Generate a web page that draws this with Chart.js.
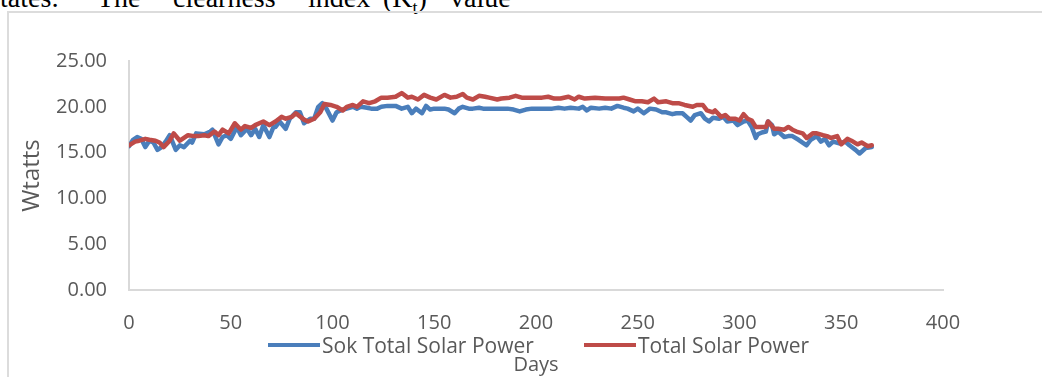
<!DOCTYPE html>
<html>
<head>
<meta charset="utf-8">
<script src="https://cdn.jsdelivr.net/npm/chart.js@4/dist/chart.umd.min.js"></script>
<style>
    body { margin: 0; background: #fff; overflow: hidden; }
    #wrap { position: relative; width: 1042px; height: 377px; overflow: hidden; }
    #frame { position: absolute; left: 7px; top: 11px; width: 1100px; height: 400px;
             border-left: 2px solid #dcdcdc; border-top: 2px solid #dcdcdc; }
    #doc { position: absolute; top: -16px; left: 0; font-family: "Liberation Serif", "Times New Roman", serif;
           font-size: 28px; line-height: 28px; color: #000; white-space: nowrap; }
    #doc span { position: absolute; top: 0; }
    canvas { position: absolute; left: 0; top: 0; }
    .leg { position: absolute; top: 332px; font-family: "Open Sans", sans-serif; font-size: 21px;
           color: #595959; line-height: 26px; white-space: nowrap; }
    .leg i { display: inline-block; width: 52px; height: 4px; vertical-align: middle; margin-right: 2px;
             position: relative; top: -2px; }
</style>
</head>
<body>
<div id="wrap">
    <div id="doc">
        <span style="left:0">tates:</span>
        <span style="left:97px">The</span>
        <span style="left:173px">clearness</span>
        <span style="left:308px">index</span>
        <span style="left:383px">(K<sub style="font-size:18px">t</sub>)</span>
        <span style="left:450px">value</span>
    </div>
    <div id="frame"></div>
    <canvas id="chartSolar" width="1042" height="377"></canvas>
    <div class="leg" style="left:268px"><i style="background:#4a7ebb"></i>Sok Total Solar Power</div>
    <div class="leg" style="left:584px"><i style="background:#be4b48"></i>Total Solar Power</div>
</div>
<script>
// Sok Total Solar Power (blue)
const sokDays = [0, 2, 4, 6, 8, 10, 12, 14, 16, 18, 20, 23, 25, 27, 30, 31, 33, 37, 40, 41, 44, 46, 48, 50, 53, 55, 58, 60, 62, 64, 66, 69, 71, 72, 74, 77, 79, 82, 84, 86, 89, 91, 93, 95, 97, 100, 102, 104, 107, 110, 112, 114, 117, 119, 122, 124, 127, 131, 134, 137, 139, 141, 144, 146, 148, 150, 155, 157, 160, 162, 164, 167, 169, 172, 174, 177, 180, 183, 186, 189, 192, 195, 198, 201, 204, 208, 211, 214, 217, 221, 223, 225, 227, 231, 234, 237, 240, 243, 245, 248, 250, 253, 256, 259, 262, 264, 267, 269, 272, 274, 276, 278, 281, 283, 285, 287, 290, 292, 294, 297, 299, 302, 304, 306, 308, 309, 311, 313, 314, 316, 317, 319, 322, 324, 326, 329, 331, 333, 335, 338, 340, 342, 344, 346, 349, 352, 354, 357, 359, 362, 365];
const sokPower = [15.7, 16.4, 16.7, 16.5, 15.6, 16.3, 16.1, 15.3, 15.6, 16.2, 16.9, 15.3, 15.8, 15.6, 16.3, 16.1, 17.1, 17.0, 17.3, 17.5, 15.9, 16.7, 16.9, 16.5, 17.8, 16.9, 17.6, 16.9, 17.6, 16.7, 18.0, 16.7, 17.8, 17.8, 18.4, 17.6, 18.7, 19.4, 19.4, 18.2, 18.7, 18.7, 20.0, 20.4, 19.8, 18.5, 19.4, 19.6, 19.8, 20.0, 19.8, 20.0, 19.9, 19.8, 19.8, 20.0, 20.1, 20.1, 19.8, 20.0, 19.3, 19.8, 19.3, 20.1, 19.7, 19.8, 19.8, 19.7, 19.3, 19.8, 20.0, 19.8, 19.8, 19.9, 19.8, 19.8, 19.8, 19.8, 19.8, 19.7, 19.5, 19.7, 19.8, 19.8, 19.8, 19.8, 19.9, 19.8, 19.9, 19.8, 20.0, 19.6, 19.9, 19.8, 19.9, 19.8, 20.1, 19.9, 19.8, 19.5, 19.8, 19.3, 19.8, 19.7, 19.4, 19.4, 19.2, 19.3, 19.3, 18.9, 18.5, 19.1, 19.3, 18.7, 18.4, 18.8, 18.7, 18.9, 18.4, 18.5, 18.0, 18.4, 18.5, 17.8, 16.6, 17.0, 17.2, 17.3, 18.4, 18.0, 17.0, 17.3, 16.7, 16.8, 16.8, 16.4, 16.1, 15.8, 16.4, 16.8, 16.2, 16.5, 15.8, 16.2, 16.0, 16.2, 15.8, 15.3, 14.9, 15.5, 15.6];

// Total Solar Power (red)
const totalDays = [0, 3, 5, 8, 10, 13, 15, 17, 20, 22, 25, 27, 29, 32, 34, 37, 39, 42, 44, 46, 49, 52, 55, 57, 60, 62, 66, 69, 72, 75, 77, 80, 82, 86, 88, 91, 94, 96, 99, 102, 105, 107, 110, 112, 115, 118, 121, 124, 127, 131, 134, 137, 139, 142, 145, 148, 151, 155, 158, 161, 164, 166, 169, 172, 175, 177, 181, 183, 187, 190, 193, 196, 200, 203, 206, 209, 212, 216, 219, 221, 224, 229, 234, 237, 241, 243, 246, 249, 252, 255, 258, 260, 264, 267, 270, 273, 277, 279, 282, 284, 287, 288, 291, 293, 295, 298, 300, 302, 304, 306, 308, 311, 313, 314, 317, 319, 322, 324, 326, 328, 331, 333, 336, 338, 341, 343, 345, 348, 350, 353, 355, 358, 360, 363, 365];
const totalPower = [15.8, 16.2, 16.3, 16.5, 16.4, 16.3, 16.1, 15.6, 16.3, 17.1, 16.3, 16.6, 16.9, 16.8, 16.8, 16.9, 16.8, 17.3, 16.9, 17.5, 17.1, 18.2, 17.5, 17.9, 17.7, 18.0, 18.4, 18.0, 18.4, 18.9, 18.7, 18.9, 19.3, 18.6, 18.4, 18.7, 19.4, 20.3, 20.2, 20.0, 19.6, 20.0, 20.2, 20.0, 20.6, 20.4, 20.6, 21.0, 21.0, 21.1, 21.5, 21.0, 21.1, 20.8, 21.3, 21.0, 20.8, 21.3, 21.0, 21.1, 21.4, 21.0, 20.8, 21.2, 21.1, 21.0, 20.8, 20.9, 21.0, 21.2, 21.0, 21.0, 21.0, 21.0, 21.1, 20.9, 20.9, 21.1, 20.8, 21.1, 20.9, 21.0, 20.9, 20.9, 20.9, 21.0, 20.8, 20.6, 20.6, 20.5, 20.9, 20.5, 20.6, 20.4, 20.4, 20.2, 20.0, 20.2, 20.2, 19.6, 19.4, 19.6, 18.9, 19.1, 18.7, 18.7, 18.5, 19.2, 18.7, 18.5, 17.8, 17.8, 17.8, 18.4, 17.6, 17.6, 17.5, 17.8, 17.5, 17.3, 17.1, 16.6, 17.1, 17.1, 16.9, 16.8, 16.6, 16.8, 15.9, 16.5, 16.3, 15.9, 16.1, 15.7, 15.8];

const xTicks = [0, 50, 100, 150, 200, 250, 300, 350, 400];
const yTicks = [0, 5, 10, 15, 20, 25];

const FONT = '"Open Sans", sans-serif';
const GRIS = '#595959';

function puntos(dias, valores) {
    return dias.map((d, i) => ({ x: d, y: valores[i] }));
}

new Chart(document.getElementById('chartSolar'), {
    type: 'line',
    data: {
        datasets: [{
            label: 'Sok Total Solar Power',
            data: puntos(sokDays, sokPower),
            borderColor: '#4a7ebb',
            borderWidth: 4.5,
            order: 1
        }, {
            label: 'Total Solar Power',
            data: puntos(totalDays, totalPower),
            borderColor: '#be4b48',
            borderWidth: 4.5,
            order: 0
        }]
    },
    options: {
        responsive: false,
        animation: false,
        devicePixelRatio: 1,
        layout: { padding: { left: 0, top: 61, right: 99, bottom: 0 } },
        elements: {
            point: { radius: 0 },
            line: { tension: 0, borderJoinStyle: 'round', borderCapStyle: 'round' }
        },
        plugins: {
            legend: { display: false },
            tooltip: { enabled: false }
        },
        scales: {
            x: {
                type: 'linear',
                min: 0,
                max: 400,
                afterBuildTicks: s => { s.ticks = xTicks.map(v => ({ value: v })); },
                afterFit: s => { s.height = 87; },
                grid: { display: false, drawTicks: false },
                border: { display: true, color: '#d9d9d9', width: 2 },
                ticks: { color: GRIS, font: { family: FONT, size: 20 }, padding: 21, maxRotation: 0 },
                title: { display: true, text: 'Days', color: GRIS, font: { family: FONT, size: 20 },
                         padding: { top: 18, bottom: 0 } }
            },
            y: {
                min: 0,
                max: 25,
                afterBuildTicks: s => { s.ticks = yTicks.map(v => ({ value: v })); },
                afterFit: s => { s.width = 129; },
                grid: { display: false, drawTicks: false },
                border: { display: true, color: '#d9d9d9', width: 2 },
                ticks: { color: GRIS, font: { family: FONT, size: 20 }, padding: 22,
                         callback: v => v.toFixed(2) },
                title: { display: true, text: 'Wtatts', color: GRIS, font: { family: FONT, size: 24 },
                         padding: { top: 18, bottom: 0 } }
            }
        }
    }
});
</script>
</body>
</html>
